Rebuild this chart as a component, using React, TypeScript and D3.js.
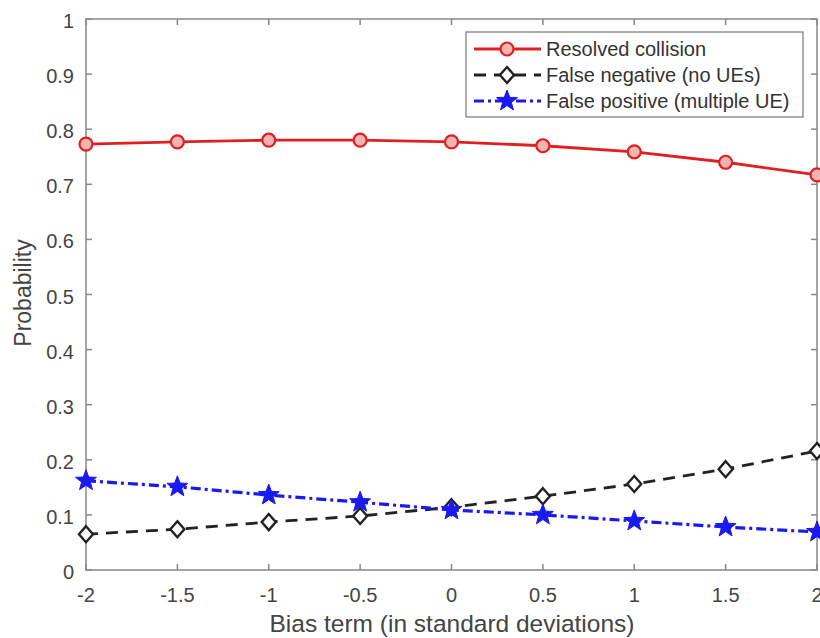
import React from "react";
import * as d3 from "d3";

const biasTerms = [-2, -1.5, -1, -0.5, 0, 0.5, 1, 1.5, 2];
const resolvedCollision = [0.773, 0.777, 0.780, 0.780, 0.777, 0.770, 0.759, 0.740, 0.717];
const falseNegative = [0.065, 0.074, 0.087, 0.098, 0.114, 0.134, 0.156, 0.183, 0.216];
const falsePositive = [0.162, 0.151, 0.136, 0.123, 0.109, 0.100, 0.089, 0.078, 0.069];
const xTicks = [-2, -1.5, -1, -0.5, 0, 0.5, 1, 1.5, 2];
const yTicks = [0, 0.1, 0.2, 0.3, 0.4, 0.5, 0.6, 0.7, 0.8, 0.9, 1];
const seriesNames = ["Resolved collision", "False negative (no UEs)", "False positive (multiple UE)"];

const W = 820, H = 638;
const L = 86, R = 817, T = 19, B = 570;
const FONT = "'Liberation Sans', Arial, Helvetica, sans-serif";

function starPath(cx: number, cy: number, ro: number, ri: number) {
  const pts: string[] = [];
  for (let i = 0; i < 10; i++) {
    const a = -Math.PI / 2 + (i * Math.PI) / 5;
    const r = i % 2 === 0 ? ro : ri;
    pts.push(`${cx + r * Math.cos(a)},${cy + r * Math.sin(a)}`);
  }
  return "M" + pts.join("L") + "Z";
}

function Marker({ kind, x, y }: { kind: string; x: number; y: number }) {
  if (kind === "circle")
    return <circle cx={x} cy={y} r={6.5} fill="#f4b4b4" stroke="#e02020" strokeWidth={2.2} />;
  if (kind === "diamond")
    return (
      <path d={`M${x},${y - 8}L${x + 7},${y}L${x},${y + 8}L${x - 7},${y}Z`} fill="white" stroke="#222" strokeWidth={2.4} />
    );
  return <path d={starPath(x, y, 11, 4.6)} fill="#1a1aee" stroke="#1a1aee" strokeWidth={1} />;
}

export default function App() {
  const x = d3.scaleLinear().domain([-2, 2]).range([L, R]);
  const y = d3.scaleLinear().domain([0, 1]).range([B, T]);
  const line = d3.line<number>().x((_, i) => x(biasTerms[i])).y((d) => y(d));

  const series = [
    { data: resolvedCollision, color: "#e02020", dash: undefined as string | undefined, width: 2.8, marker: "circle" },
    { data: falseNegative, color: "#222", dash: "12,8", width: 2.8, marker: "diamond" },
    { data: falsePositive, color: "#1a1aee", dash: "10,4,3,4", width: 3.2, marker: "star" },
  ];

  const axisColor = "#888";
  const legX = 466, legY = 32, legW = 337, legH = 85;

  return (
    <svg width={W} height={H} style={{ position: "absolute", left: 0, top: 0, background: "white" }}>
      <rect x={0} y={0} width={W} height={H} fill="white" />
      <rect x={L} y={T} width={R - L} height={B - T} fill="none" stroke={axisColor} strokeWidth={1.5} />
      {xTicks.map((t) => (
        <g key={"x" + t}>
          <line x1={x(t)} x2={x(t)} y1={B} y2={B - 6} stroke={axisColor} strokeWidth={1.5} />
          <line x1={x(t)} x2={x(t)} y1={T} y2={T + 6} stroke={axisColor} strokeWidth={1.5} />
          <text x={x(t)} y={602} textAnchor="middle" fontFamily={FONT} fontSize={20} fill="#444">
            {t}
          </text>
        </g>
      ))}
      {yTicks.map((t) => (
        <g key={"y" + t}>
          <line x1={L} x2={L + 6} y1={y(t)} y2={y(t)} stroke={axisColor} strokeWidth={1.5} />
          <line x1={R} x2={R - 6} y1={y(t)} y2={y(t)} stroke={axisColor} strokeWidth={1.5} />
          <text x={74} y={y(t) + 9} textAnchor="end" fontFamily={FONT} fontSize={20} fill="#444">
            {t}
          </text>
        </g>
      ))}
      <text x={452} y={632} textAnchor="middle" fontFamily={FONT} fontSize={24.5} fill="#444">
        Bias term (in standard deviations)
      </text>
      <text transform="translate(31,293) rotate(-90)" textAnchor="middle" fontFamily={FONT} fontSize={23} fill="#444">
        Probability
      </text>
      {series.map((s, si) => (
        <g key={si}>
          <path d={line(s.data) || ""} fill="none" stroke={s.color} strokeWidth={s.width} strokeDasharray={s.dash} />
          {s.data.map((v, i) => (
            <Marker key={i} kind={s.marker} x={x(biasTerms[i])} y={y(v)} />
          ))}
        </g>
      ))}
      <rect x={legX} y={legY} width={legW} height={legH} fill="white" stroke="#777" strokeWidth={1.2} />
      {series.map((s, si) => {
        const ly = 49 + si * 26;
        return (
          <g key={"l" + si}>
            <line x1={474} x2={541} y1={ly} y2={ly} stroke={s.color} strokeWidth={s.width} strokeDasharray={s.dash} />
            <Marker kind={s.marker} x={507} y={ly} />
            <text x={546} y={ly + 7} fontFamily={FONT} fontSize={20} fill="#333">
              {seriesNames[si]}
            </text>
          </g>
        );
      })}
    </svg>
  );
}
